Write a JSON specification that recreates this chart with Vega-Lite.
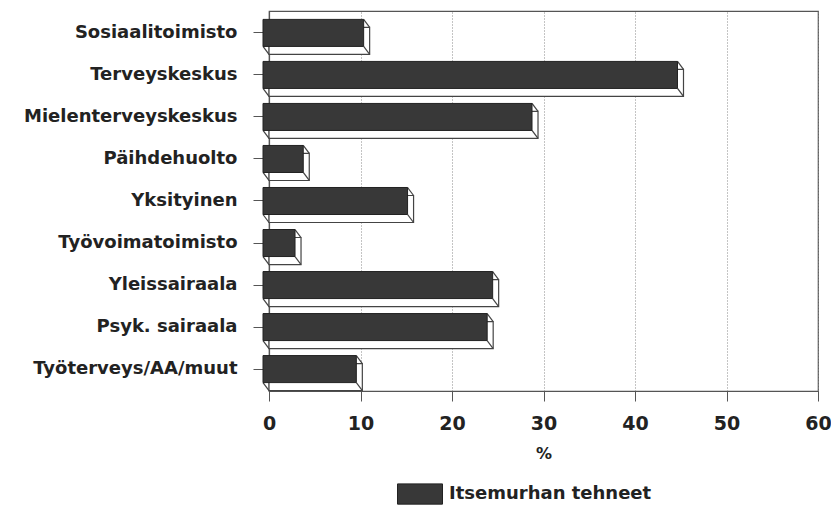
{
  "$schema": "https://vega.github.io/schema/vega-lite/v6.json",
  "width": 549,
  "height": 380,
  "autosize": {"type": "none"},
  "padding": {"left": 269, "top": 11, "right": 13, "bottom": 116},
  "background": "white",
  "data": {
    "values": [
      {"paikka": "Sosiaalitoimisto", "osuus": 11.0},
      {"paikka": "Terveyskeskus", "osuus": 45.3},
      {"paikka": "Mielenterveyskeskus", "osuus": 29.4},
      {"paikka": "Päihdehuolto", "osuus": 4.4},
      {"paikka": "Yksityinen", "osuus": 15.8},
      {"paikka": "Työvoimatoimisto", "osuus": 3.5},
      {"paikka": "Yleissairaala", "osuus": 25.1},
      {"paikka": "Psyk. sairaala", "osuus": 24.5},
      {"paikka": "Työterveys/AA/muut", "osuus": 10.2}
    ]
  },
  "config": {
    "view": {"stroke": "#555", "strokeWidth": 1.2},
    "scale": {"bandPaddingInner": 0.357, "bandPaddingOuter": 0.2},
    "axis": {
      "labelFont": "DejaVu Sans",
      "labelFontWeight": "bold",
      "labelFontSize": 18,
      "labelColor": "#222",
      "labelLimit": 0,
      "titleFont": "DejaVu Sans",
      "titleFontWeight": "bold",
      "titleColor": "#222",
      "domainColor": "#555",
      "tickColor": "#555"
    },
    "legend": {
      "labelFont": "DejaVu Sans",
      "labelFontWeight": "bold",
      "labelFontSize": 18,
      "labelColor": "#222",
      "labelLimit": 0
    }
  },
  "encoding": {
    "y": {
      "field": "paikka",
      "type": "nominal",
      "sort": null,
      "axis": {
        "title": null,
        "tickSize": 16,
        "labelPadding": 16,
        "domainWidth": 1.2
      }
    }
  },
  "layer": [
    {
      "mark": {
        "type": "bar",
        "fill": "white",
        "stroke": "#444",
        "strokeWidth": 1.2,
        "yOffset": 8
      },
      "encoding": {
        "x": {
          "field": "osuus",
          "type": "quantitative",
          "scale": {"domain": [0, 60], "nice": false},
          "axis": {
            "title": "%",
            "titleFontSize": 16,
            "titlePadding": 12,
            "values": [0, 10, 20, 30, 40, 50, 60],
            "tickSize": 10,
            "labelPadding": 13,
            "labelFontSize": 19,
            "labelFlush": false,
            "grid": true,
            "gridColor": "#888",
            "gridDash": [1, 2],
            "gridWidth": 1
          }
        },
        "x2": {"datum": 0}
      }
    },
    {
      "mark": {"type": "rule", "stroke": "#444", "strokeWidth": 1.2, "xOffset": -6, "yOffset": -13.5, "y2Offset": -5.5},
      "encoding": {
        "x": {"field": "osuus", "type": "quantitative"},
        "x2": {"field": "osuus"},
        "y2": {"field": "paikka"}
      }
    },
    {
      "mark": {"type": "rule", "stroke": "#444", "strokeWidth": 1.2, "xOffset": -6, "yOffset": 13.5, "y2Offset": 21.5},
      "encoding": {
        "x": {"field": "osuus", "type": "quantitative"},
        "x2": {"field": "osuus"},
        "y2": {"field": "paikka"}
      }
    },
    {
      "mark": {"type": "rule", "stroke": "#444", "strokeWidth": 1.2, "xOffset": -6, "yOffset": 13.5, "y2Offset": 21.5},
      "encoding": {
        "x": {"datum": 0, "type": "quantitative"},
        "x2": {"datum": 0},
        "y2": {"field": "paikka"}
      }
    },
    {
      "mark": {
        "type": "bar",
        "stroke": "#222",
        "strokeWidth": 1,
        "xOffset": -6,
        "x2Offset": -6
      },
      "encoding": {
        "x": {"field": "osuus", "type": "quantitative"},
        "x2": {"datum": 0},
        "color": {
          "datum": "Itsemurhan tehneet",
          "scale": {"range": ["#383838"]},
          "legend": {
            "title": null,
            "orient": "none",
            "legendX": 128,
            "legendY": 460,
            "symbolType": "M-1,-0.45H1V0.45H-1Z",
            "symbolSize": 2025,
            "symbolStrokeColor": "#222",
            "symbolStrokeWidth": 1,
            "labelOffset": 6
          }
        }
      }
    }
  ]
}
